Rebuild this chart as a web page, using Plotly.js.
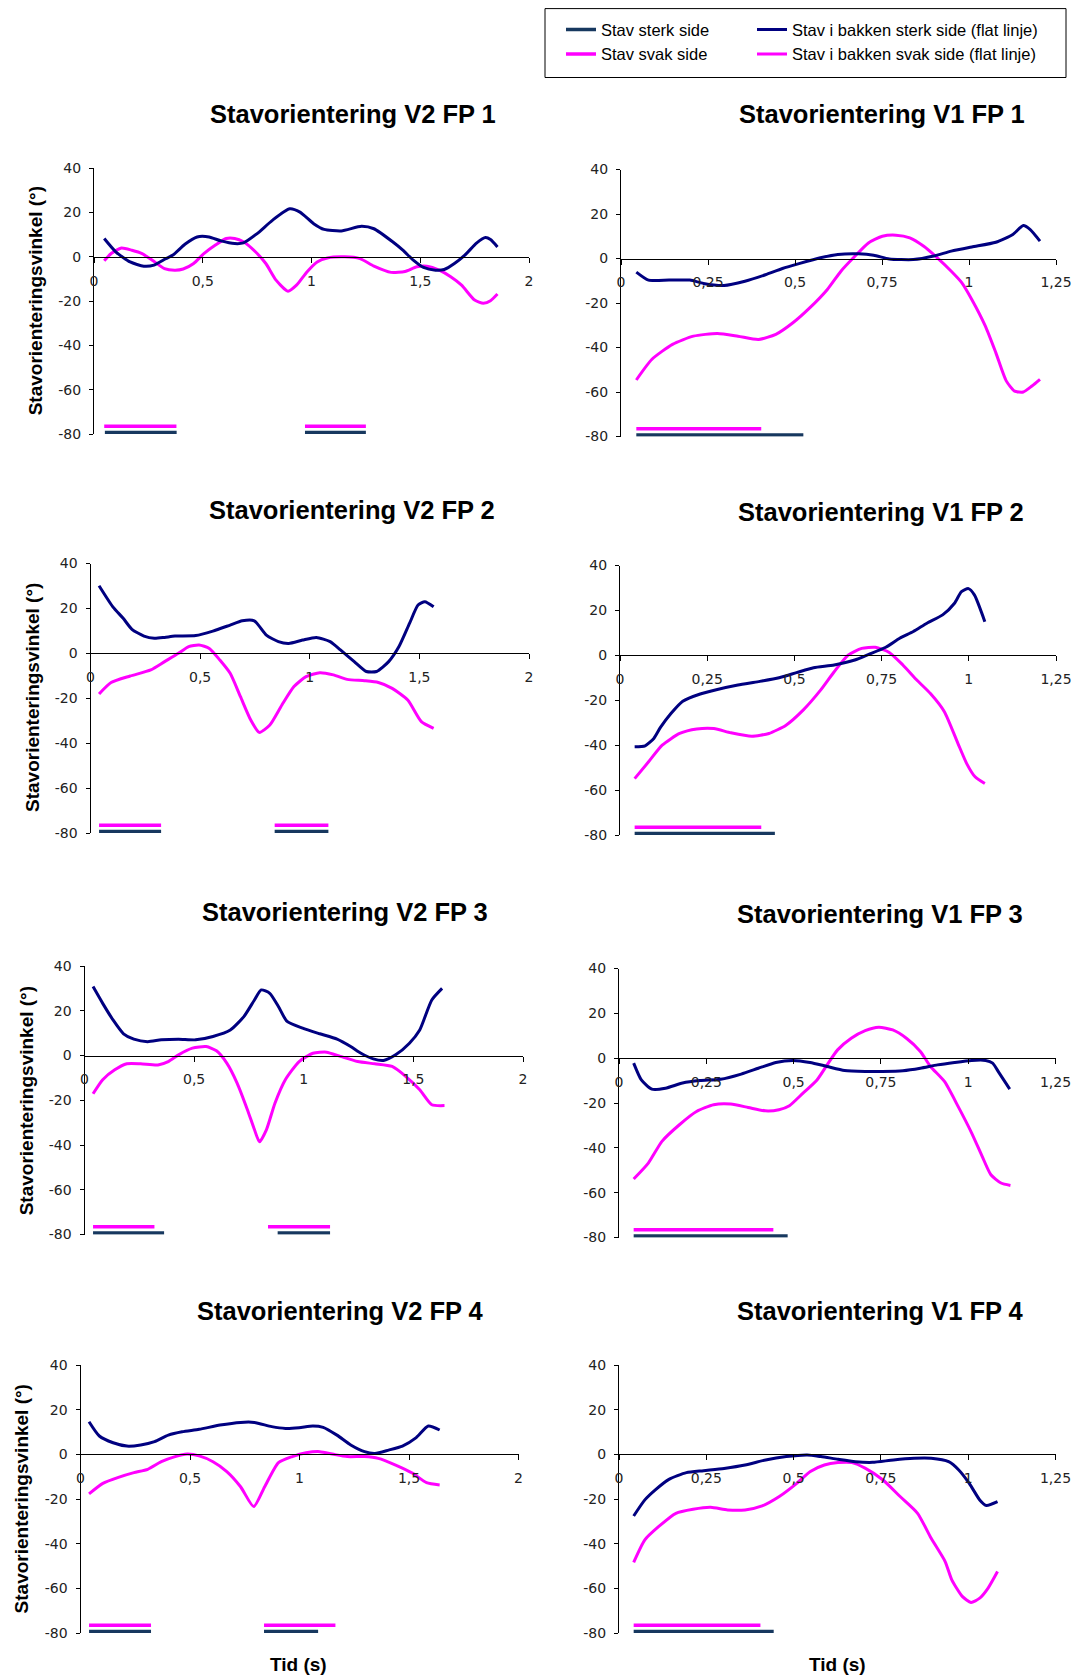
<!DOCTYPE html>
<html>
<head>
<meta charset="utf-8">
<script src="https://cdn.plot.ly/plotly-3.0.1.min.js"></script>
<style>
  html, body { margin: 0; padding: 0; background: #ffffff; }
  #chart { width: 1077px; height: 1678px; }
</style>
</head>
<body>
<div id="chart"></div>
<script>
// Stavorientering: pole orientation angle (degrees) against time (s)
// for V2 and V1 technique, four subjects (FP 1-4).

// ---- V2 FP 1 ----
const v2fp1_sterk_t = [0.047,0.10,0.166,0.229,0.276,0.33,0.363,0.418,0.474,0.529,0.584,0.647,0.687,0.75,0.82,0.90,0.947,1.01,1.058,1.137,1.23,1.287,1.373,1.42,1.468,1.515,1.57,1.61,1.657,1.705,1.76,1.80,1.823,1.855];
const v2fp1_sterk_v = [8.3,2.3,-2.3,-4.2,-3.7,-0.8,0.8,5.7,9,9,7.2,6,6.3,10.5,16.5,21.7,20.2,15,12.4,11.7,13.8,12.7,6.8,3,-1.5,-4.8,-6,-5.7,-3,0.8,6.3,8.7,7.8,4.5];
const v2fp1_svak_t = [0.047,0.079,0.126,0.174,0.221,0.268,0.324,0.371,0.41,0.458,0.505,0.56,0.608,0.647,0.687,0.742,0.79,0.837,0.892,0.931,0.979,1.026,1.073,1.152,1.223,1.287,1.366,1.43,1.484,1.53,1.587,1.64,1.69,1.75,1.79,1.823,1.855];
const v2fp1_svak_v = [-1.8,1.5,4,3,1.5,-1.5,-5.3,-6,-5.5,-3,1.5,5.5,8.3,8.3,6.8,2.3,-3,-10.5,-15.5,-12.8,-6.8,-2.3,-0.5,0,-0.8,-4.2,-7,-6.6,-4.5,-4.2,-6,-9,-12.8,-19.5,-21,-19.8,-16.8];
const v2fp1_bakke_sterk = [[0.05,0.38],[0.97,1.25]];
const v2fp1_bakke_svak = [[0.047,0.379],[0.97,1.25]];

// ---- V1 FP 1 ----
const v1fp1_sterk_t = [0.044,0.079,0.138,0.198,0.237,0.296,0.356,0.415,0.464,0.514,0.573,0.623,0.682,0.726,0.771,0.84,0.899,0.949,1.008,1.077,1.126,1.156,1.176,1.204];
const v1fp1_sterk_v = [-6.1,-9.7,-9.7,-9.7,-11.2,-12.1,-10.2,-7.3,-4.5,-2.2,0.3,1.8,2.1,1.5,-0.2,-0.5,1.1,3.3,5.2,7.3,10.8,14.8,13,7.8];
const v1fp1_svak_t = [0.044,0.089,0.148,0.208,0.277,0.336,0.395,0.445,0.494,0.543,0.593,0.632,0.672,0.711,0.751,0.79,0.83,0.87,0.909,0.949,0.978,1.008,1.047,1.077,1.107,1.131,1.156,1.181,1.204];
const v1fp1_svak_v = [-54.6,-45.3,-38.6,-34.9,-33.7,-34.9,-36.4,-34.1,-28.9,-22.1,-13.9,-5.7,1,7,10,10.5,9.3,5.5,0.3,-5.7,-10.6,-18.4,-30.4,-42.3,-55,-59.6,-60,-57.3,-54.3];
const v1fp1_bakke_sterk = [[0.044,0.524]];
const v1fp1_bakke_svak = [[0.044,0.403]];

// ---- V2 FP 2 ----
const v2fp2_sterk_t = [0.039,0.102,0.149,0.189,0.244,0.291,0.338,0.385,0.48,0.558,0.637,0.692,0.747,0.802,0.857,0.904,0.967,1.03,1.093,1.14,1.203,1.258,1.305,1.36,1.407,1.455,1.494,1.525,1.565];
const v2fp2_sterk_v = [30.1,20.7,15.6,10.7,7.7,6.7,7.1,7.7,7.9,9.9,12.6,14.5,14.5,8.1,5.2,4.4,5.9,7.1,5.2,1.5,-3.7,-8.1,-8.1,-3.7,3,13.3,21.5,23,20.7];
const v2fp2_svak_t = [0.039,0.094,0.181,0.275,0.338,0.401,0.448,0.495,0.542,0.59,0.637,0.684,0.731,0.77,0.818,0.873,0.928,0.983,1.046,1.108,1.171,1.25,1.313,1.376,1.447,1.509,1.565];
const v2fp2_svak_v = [-18.1,-13,-10.1,-7.4,-3.7,0,3,3.7,2.2,-3,-8.9,-19.3,-29.7,-35.2,-31.9,-23,-14.8,-10.4,-8.6,-9.6,-11.6,-12.2,-13,-15.6,-20.8,-30.4,-33.4];
const v2fp2_bakke_sterk = [[0.039,0.322],[0.84,1.085]];
const v2fp2_bakke_svak = [[0.039,0.322],[0.84,1.085]];

// ---- V1 FP 2 ----
const v1fp2_sterk_t = [0.042,0.072,0.097,0.116,0.146,0.18,0.23,0.279,0.338,0.397,0.456,0.506,0.555,0.614,0.673,0.713,0.762,0.802,0.841,0.88,0.925,0.959,0.979,0.999,1.016,1.046];
const v1fp2_sterk_v = [-40.7,-40.3,-37,-32.1,-25.9,-20.4,-17.2,-15.2,-13.2,-11.7,-10,-7.7,-5.5,-4.3,-2.1,0.4,3.6,7.6,10.6,14.3,18,23.2,28.4,29.7,26.9,15];
const v1fp2_svak_t = [0.042,0.082,0.121,0.171,0.22,0.269,0.318,0.378,0.427,0.476,0.525,0.575,0.614,0.654,0.693,0.732,0.772,0.811,0.851,0.89,0.93,0.969,0.994,1.018,1.046];
const v1fp2_svak_v = [-54.9,-47.4,-40,-34.8,-32.8,-32.6,-34.5,-36,-34.8,-31.1,-24.4,-15.5,-7.3,0.1,3.1,3.6,1.3,-4.3,-11,-17,-25.1,-39.3,-48.2,-54.1,-57.1];
const v1fp2_bakke_sterk = [[0.042,0.444]];
const v1fp2_bakke_svak = [[0.042,0.405]];

// ---- V2 FP 3 ----
const v2fp3_sterk_t = [0.039,0.083,0.13,0.178,0.225,0.288,0.35,0.429,0.507,0.586,0.665,0.727,0.775,0.806,0.845,0.885,0.924,0.995,1.073,1.152,1.214,1.261,1.317,1.364,1.419,1.482,1.529,1.584,1.631];
const v2fp3_sterk_v = [30.8,23.3,15.9,9.7,7.3,6.2,7,7.3,7,8.5,11.4,17.4,24.8,29.3,27.8,21.8,15.2,12.2,9.7,7.3,4,1,-1.5,-2.2,0.3,5.5,11.4,24.8,30];
const v2fp3_svak_t = [0.039,0.083,0.138,0.193,0.256,0.335,0.382,0.429,0.492,0.555,0.602,0.649,0.696,0.743,0.775,0.798,0.83,0.869,0.916,0.979,1.042,1.104,1.167,1.246,1.324,1.403,1.466,1.529,1.584,1.642];
const v2fp3_svak_v = [-17.1,-10.8,-6.4,-3.7,-3.7,-4.2,-2.7,0.3,3.3,4,2.1,-3.4,-12.3,-24.2,-33.1,-38.6,-33.1,-21.2,-10.8,-2.7,1,1.5,-0.4,-2.7,-3.7,-4.9,-9.4,-15.3,-22,-22.4];
const v2fp3_bakke_sterk = [[0.039,0.363],[0.881,1.12]];
const v2fp3_bakke_svak = [[0.039,0.319],[0.837,1.12]];

// ---- V1 FP 3 ----
const v1fp3_sterk_t = [0.042,0.064,0.094,0.133,0.182,0.232,0.291,0.35,0.399,0.449,0.498,0.547,0.596,0.646,0.705,0.754,0.813,0.863,0.912,0.961,1.01,1.05,1.07,1.089,1.119];
const v1fp3_sterk_v = [-2.2,-9.7,-13.8,-13.4,-11.1,-10,-9.4,-7.1,-4.5,-1.9,-1,-1.9,-3.7,-5.5,-5.9,-5.9,-5.6,-4.5,-3,-1.9,-1,-1,-2.2,-6.7,-13.8];
const v1fp3_svak_t = [0.042,0.084,0.123,0.173,0.222,0.271,0.32,0.37,0.419,0.458,0.488,0.527,0.567,0.596,0.626,0.665,0.705,0.744,0.784,0.823,0.863,0.892,0.932,0.971,1.01,1.04,1.065,1.094,1.121];
const v1fp3_svak_v = [-53.9,-46.8,-37.1,-29.7,-23.8,-20.8,-20.5,-22,-23.5,-23,-21.2,-15.6,-9.7,-3,3.7,8.9,12.3,13.8,12.6,8.9,3,-3.7,-10.4,-21.5,-33.4,-43.8,-52,-55.7,-56.8];
const v1fp3_bakke_sterk = [[0.042,0.483]];
const v1fp3_bakke_svak = [[0.042,0.442]];

// ---- V2 FP 4 ----
const v2fp4_sterk_t = [0.039,0.086,0.149,0.212,0.275,0.338,0.401,0.464,0.542,0.637,0.731,0.794,0.873,0.936,0.998,1.061,1.108,1.171,1.234,1.297,1.344,1.407,1.47,1.533,1.588,1.64];
const v2fp4_sterk_v = [14.6,8.2,5.2,3.7,4.2,5.7,8.6,10.1,11.2,13.1,14.3,14.3,12.4,11.6,11.9,12.7,12.1,8.6,4.2,1.2,0.4,1.9,3.7,7.5,12.7,10.9];
const v2fp4_svak_t = [0.039,0.102,0.173,0.244,0.307,0.369,0.432,0.487,0.542,0.605,0.668,0.731,0.791,0.841,0.904,0.967,1.03,1.093,1.156,1.218,1.297,1.36,1.439,1.517,1.58,1.64];
const v2fp4_svak_v = [-17.7,-13,-10.3,-8.2,-6.7,-3.3,-1,0.1,-0.7,-3.3,-7.7,-14.5,-23.4,-14.5,-3.7,-1,0.7,1.2,0,-1,-1,-1.8,-4.8,-8.5,-12.7,-13.7];
const v2fp4_bakke_sterk = [[0.039,0.322],[0.838,1.085]];
const v2fp4_bakke_svak = [[0.039,0.322],[0.838,1.164]];

// ---- V1 FP 4 ----
const v1fp4_sterk_t = [0.042,0.074,0.104,0.143,0.193,0.242,0.301,0.361,0.42,0.479,0.539,0.578,0.627,0.677,0.726,0.786,0.845,0.894,0.944,0.973,1.003,1.033,1.052,1.084];
const v1fp4_sterk_v = [-27.6,-20.4,-15.9,-11.2,-8.2,-7.3,-6.3,-4.8,-2.5,-1,-0.3,-1,-2.2,-3.3,-3.6,-2.5,-1.8,-1.8,-3.3,-7,-13,-20.4,-22.9,-21.2];
const v1fp4_svak_t = [0.042,0.074,0.114,0.163,0.212,0.262,0.311,0.361,0.41,0.459,0.509,0.548,0.588,0.627,0.667,0.706,0.756,0.805,0.855,0.894,0.934,0.953,0.983,1.008,1.033,1.057,1.084];
const v1fp4_svak_v = [-48.4,-38.3,-32.3,-26.4,-24.6,-23.7,-24.9,-24.9,-23.1,-18.9,-13,-7.7,-4.8,-3.7,-3.7,-6.3,-11.5,-18.9,-26.4,-37.6,-48,-56.2,-63.6,-66.3,-64.4,-59.9,-52.5];
const v1fp4_bakke_sterk = [[0.042,0.443]];
const v1fp4_bakke_svak = [[0.042,0.405]];

// Levels of the flat "pole in ground" lines
const nivaBakkeSterk = -79.3;
const nivaBakkeSvak = -76.5;

// Tick values and labels
const yTickVals = [-80, -60, -40, -20, 0, 20, 40];
const yTickText = ['-80', '-60', '-40', '-20', '0', '20', '40'];
const xTickValsV2 = [0, 0.5, 1, 1.5, 2];
const xTickTextV2 = ['0', '0,5', '1', '1,5', '2'];
const xTickValsV1 = [0, 0.25, 0.5, 0.75, 1, 1.25];
const xTickTextV1 = ['0', '0,25', '0,5', '0,75', '1', '1,25'];

const titles = [
  'Stavorientering V2 FP 1', 'Stavorientering V1 FP 1',
  'Stavorientering V2 FP 2', 'Stavorientering V1 FP 2',
  'Stavorientering V2 FP 3', 'Stavorientering V1 FP 3',
  'Stavorientering V2 FP 4', 'Stavorientering V1 FP 4'
];
const yTitle = 'Stavorienteringsvinkel (°)';
const xTitle = 'Tid (s)';
const legendNames = {
  bakkeSterk: 'Stav sterk side',
  bakkeSvak: 'Stav svak side',
  sterk: 'Stav i bakken sterk side (flat linje)',
  svak: 'Stav i bakken svak side (flat linje)'
};

// ---- page geometry (pixels) ----
const W = 1077, H = 1678;
const FONT = 'Liberation Sans, Arial, Helvetica, sans-serif';
const TICKFONT = 'DejaVu Sans, Verdana, sans-serif';
const NAVY = '#000080', PINK = '#FF00FF', SLATE = '#17385F';

// plot boxes: left/right of x axis, top (40) and bottom (-80) of y axis
const boxes = [
  {l: 94,  r: 529,    t: 168.3, b: 434},
  {l: 621, r: 1056,   t: 169.5, b: 436.5},
  {l: 90.5, r: 529,   t: 563.5, b: 833},
  {l: 620, r: 1056,   t: 565.5, b: 835},
  {l: 84.5, r: 523,   t: 966,   b: 1234.5},
  {l: 619, r: 1055.5, t: 968.5, b: 1237.5},
  {l: 80.5, r: 518.5, t: 1365,  b: 1633},
  {l: 619, r: 1055.5, t: 1365,  b: 1633}
];
const titlePos = [
  [353, 113.5], [882, 114.5], [351.5, 510], [881, 512],
  [345, 912], [880, 914], [340.5, 1310.5], [880, 1310.5]
];
const yTitlePos = [[35.3, 301], [32, 698], [26.8, 1100.5], [21.4, 1499]];
const xTitlePos = [[298.7, 1664.5], [837.2, 1664.5]];

const panels = [
  {st: v2fp1_sterk_t, sv: v2fp1_sterk_v, wt: v2fp1_svak_t, wv: v2fp1_svak_v, bs: v2fp1_bakke_sterk, bw: v2fp1_bakke_svak, v2: true},
  {st: v1fp1_sterk_t, sv: v1fp1_sterk_v, wt: v1fp1_svak_t, wv: v1fp1_svak_v, bs: v1fp1_bakke_sterk, bw: v1fp1_bakke_svak, v2: false},
  {st: v2fp2_sterk_t, sv: v2fp2_sterk_v, wt: v2fp2_svak_t, wv: v2fp2_svak_v, bs: v2fp2_bakke_sterk, bw: v2fp2_bakke_svak, v2: true},
  {st: v1fp2_sterk_t, sv: v1fp2_sterk_v, wt: v1fp2_svak_t, wv: v1fp2_svak_v, bs: v1fp2_bakke_sterk, bw: v1fp2_bakke_svak, v2: false},
  {st: v2fp3_sterk_t, sv: v2fp3_sterk_v, wt: v2fp3_svak_t, wv: v2fp3_svak_v, bs: v2fp3_bakke_sterk, bw: v2fp3_bakke_svak, v2: true},
  {st: v1fp3_sterk_t, sv: v1fp3_sterk_v, wt: v1fp3_svak_t, wv: v1fp3_svak_v, bs: v1fp3_bakke_sterk, bw: v1fp3_bakke_svak, v2: false},
  {st: v2fp4_sterk_t, sv: v2fp4_sterk_v, wt: v2fp4_svak_t, wv: v2fp4_svak_v, bs: v2fp4_bakke_sterk, bw: v2fp4_bakke_svak, v2: true},
  {st: v1fp4_sterk_t, sv: v1fp4_sterk_v, wt: v1fp4_svak_t, wv: v1fp4_svak_v, bs: v1fp4_bakke_sterk, bw: v1fp4_bakke_svak, v2: false}
];

// turn [[start, end], ...] intervals into one broken flat line
function intervals(iv, level) {
  const x = [], y = [];
  iv.forEach(function (seg, k) {
    if (k > 0) { x.push(null); y.push(null); }
    x.push(seg[0], seg[1]);
    y.push(level, level);
  });
  return {x: x, y: y};
}

const px = v => v / W;
const py = v => 1 - v / H;

const traces = [];
const layout = {
  width: W, height: H,
  margin: {l: 0, r: 0, t: 0, b: 0, pad: 0},
  paper_bgcolor: '#ffffff',
  plot_bgcolor: 'rgba(0,0,0,0)',
  separators: ', ',
  font: {family: FONT, color: '#000000'},
  showlegend: true,
  annotations: [],
  shapes: []
};

panels.forEach(function (p, i) {
  const n = i === 0 ? '' : String(i + 1);
  const xa = 'x' + n, ya = 'y' + n;
  const box = boxes[i];
  const first = i === 0;

  const bs = intervals(p.bs, nivaBakkeSterk);
  const bw = intervals(p.bw, nivaBakkeSvak);

  traces.push({
    x: bw.x, y: bw.y, xaxis: xa, yaxis: ya, type: 'scatter', mode: 'lines',
    line: {color: PINK, width: 3.5}, connectgaps: false,
    name: legendNames.bakkeSvak, legend: 'legend', legendrank: 2, showlegend: first, hoverinfo: 'skip'
  });
  traces.push({
    x: bs.x, y: bs.y, xaxis: xa, yaxis: ya, type: 'scatter', mode: 'lines',
    line: {color: SLATE, width: 3.5}, connectgaps: false,
    name: legendNames.bakkeSterk, legend: 'legend', legendrank: 1, showlegend: first, hoverinfo: 'skip'
  });
  traces.push({
    x: p.wt, y: p.wv, xaxis: xa, yaxis: ya, type: 'scatter', mode: 'lines',
    line: {color: PINK, width: 3, shape: 'spline', smoothing: 0.6},
    name: legendNames.svak, legend: 'legend2', legendrank: 2, showlegend: first
  });
  traces.push({
    x: p.st, y: p.sv, xaxis: xa, yaxis: ya, type: 'scatter', mode: 'lines',
    line: {color: NAVY, width: 3, shape: 'spline', smoothing: 0.6},
    name: legendNames.sterk, legend: 'legend2', legendrank: 1, showlegend: first
  });

  const zeroPix = box.t + (box.b - box.t) * 40 / 120;
  layout['xaxis' + n] = {
    domain: [px(box.l), px(box.r)],
    range: p.v2 ? [0, 2] : [0, 1.25],
    anchor: 'free',
    position: py(zeroPix),
    tickmode: 'array',
    tickvals: p.v2 ? xTickValsV2 : xTickValsV1,
    ticktext: p.v2 ? xTickTextV2 : xTickTextV1,
    showline: true, linecolor: '#000000', linewidth: 1,
    ticks: 'outside', ticklen: 5, tickwidth: 1, tickcolor: '#000000',
    ticklabelstandoff: 6,
    tickfont: {family: TICKFONT, size: 14, color: '#222222'},
    showgrid: false, zeroline: false, fixedrange: true
  };
  layout['yaxis' + n] = {
    domain: [py(box.b), py(box.t)],
    range: [-80, 40],
    anchor: xa,
    tickmode: 'array',
    tickvals: yTickVals,
    ticktext: yTickText,
    showline: true, linecolor: '#000000', linewidth: 1,
    ticks: 'outside', ticklen: 4, tickwidth: 1, tickcolor: '#000000',
    ticklabelstandoff: 5,
    tickfont: {family: TICKFONT, size: 14, color: '#222222'},
    showgrid: false, zeroline: false, fixedrange: true
  };

  layout.annotations.push({
    text: titles[i], xref: 'paper', yref: 'paper',
    x: px(titlePos[i][0]), y: py(titlePos[i][1]),
    xanchor: 'center', yanchor: 'middle', showarrow: false,
    font: {family: FONT, size: 25.5, weight: 700, color: '#000000'}
  });
});

yTitlePos.forEach(function (pos) {
  layout.annotations.push({
    text: yTitle, xref: 'paper', yref: 'paper',
    x: px(pos[0]), y: py(pos[1]), textangle: -90,
    xanchor: 'center', yanchor: 'middle', showarrow: false,
    font: {family: FONT, size: 19, weight: 700, color: '#000000'}
  });
});
xTitlePos.forEach(function (pos) {
  layout.annotations.push({
    text: xTitle, xref: 'paper', yref: 'paper',
    x: px(pos[0]), y: py(pos[1]),
    xanchor: 'center', yanchor: 'middle', showarrow: false,
    font: {family: FONT, size: 19, weight: 700, color: '#000000'}
  });
});

// legend frame around both legend columns
layout.shapes.push({
  type: 'rect', xref: 'paper', yref: 'paper',
  x0: px(545), x1: px(1066), y0: py(77.5), y1: py(8.6),
  line: {color: '#000000', width: 1}, fillcolor: 'rgba(0,0,0,0)'
});

const legendCommon = {
  orientation: 'v', yanchor: 'top', xanchor: 'left',
  bgcolor: 'rgba(0,0,0,0)', borderwidth: 0, tracegroupgap: 0,
  font: {family: FONT, size: 16.5, color: '#000000'}
};
layout.legend = Object.assign({}, legendCommon, {x: px(561), y: py(12.3)});
layout.legend2 = Object.assign({}, legendCommon, {x: px(752), y: py(12.3)});

Plotly.newPlot('chart', traces, layout, {displayModeBar: false, staticPlot: true});
</script>
</body>
</html>
